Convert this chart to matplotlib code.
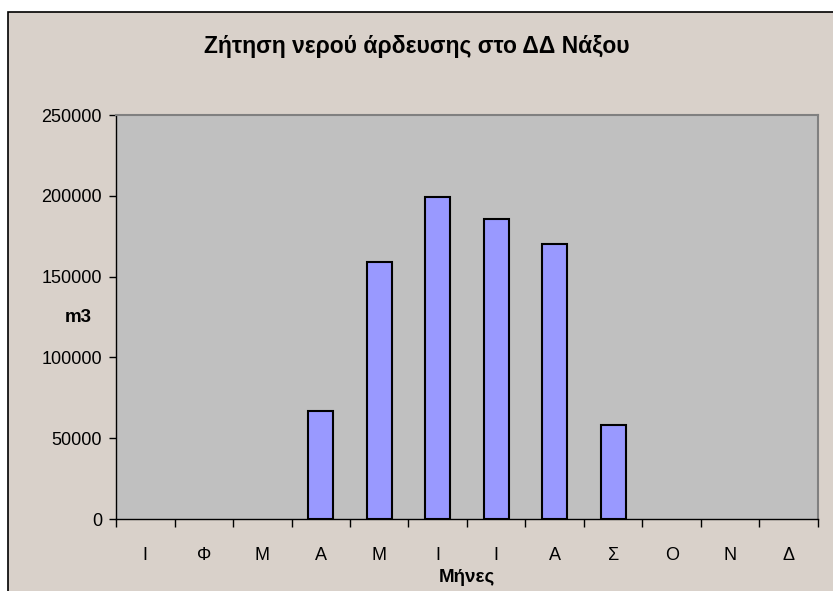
import matplotlib.pyplot as plt
from matplotlib.patches import Rectangle
import numpy as np

# Data
months = ['Ι', 'Φ', 'Μ', 'Α', 'Μ', 'Ι', 'Ι', 'Α', 'Σ', 'Ο', 'Ν', 'Δ']
demand = [0, 0, 0, 67000, 159000, 199000, 185500, 170000, 58000, 0, 0, 0]
yticks = [0, 50000, 100000, 150000, 200000, 250000]

plt.rcParams['font.family'] = ['Liberation Sans', 'DejaVu Sans']

fig = plt.figure(figsize=(8.33, 5.91), dpi=100, facecolor='white')

# Chart area with black frame (left and top edges visible)
frame = Rectangle((8 / 833, -0.05), 1.2, 1 - 12 / 591 + 0.05,
                  transform=fig.transFigure, facecolor='#D9D1CA',
                  edgecolor='black', linewidth=1.2, zorder=-10)
fig.add_artist(frame)

ax = fig.add_axes([116 / 833, 72 / 591, 702 / 833, 404 / 591])
ax.set_facecolor('#C0C0C0')

x = np.arange(len(months))
# empty months get no outline, as in Excel
edge_widths = [1.5 if v > 0 else 0 for v in demand]
ax.bar(x, demand, width=0.43, color='#9999FF', edgecolor='black', linewidth=edge_widths, zorder=3)

ax.set_xlim(-0.5, len(months) - 0.5)
ax.set_ylim(0, 250000)
ax.set_yticks(yticks)
ax.set_yticklabels([str(v) for v in yticks])
ax.set_xticks(x)
ax.set_xticklabels(months)
ax.set_xticks(np.arange(-0.5, len(months)), minor=True)

ax.tick_params(axis='y', direction='out', length=5, width=1, pad=5, labelsize=13)
ax.tick_params(axis='x', which='major', length=0, pad=20, labelsize=13)
ax.tick_params(axis='x', which='minor', direction='out', length=6, width=1)

for side in ['left', 'bottom']:
    ax.spines[side].set_color('black')
    ax.spines[side].set_linewidth(1)
for side in ['top', 'right']:
    ax.spines[side].set_color('#808080')
    ax.spines[side].set_linewidth(1.5)

fig.text(0.5, 1 - 47 / 591, 'Ζήτηση νερού άρδευσης στο ΔΔ Νάξου', ha='center', va='center',
         fontsize=16.5, fontweight='bold')
fig.text(78 / 833, 1 - 318 / 591, 'm3', ha='center', va='center', fontsize=13.5, fontweight='bold')
fig.text(467 / 833, 1 - 577 / 591, 'Μήνες', ha='center', va='center', fontsize=13.5, fontweight='bold')

plt.savefig('out.png', dpi=100, facecolor=fig.get_facecolor())
